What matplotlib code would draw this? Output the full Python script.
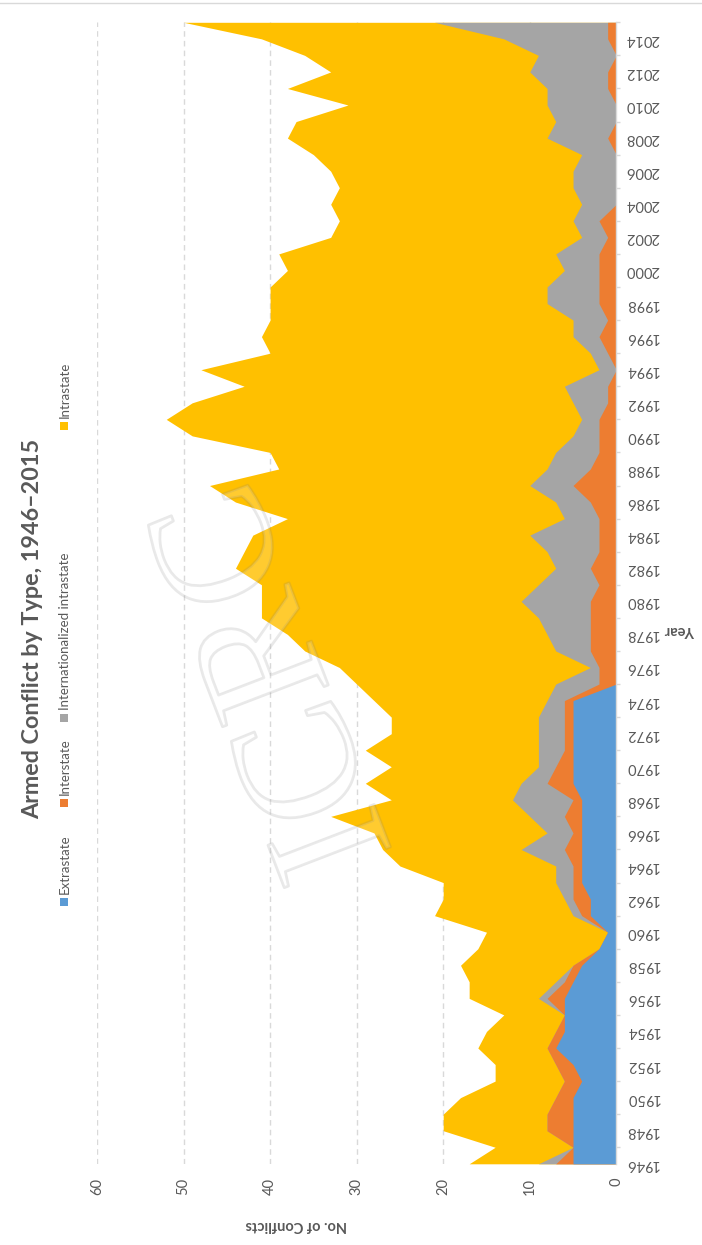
import numpy as np
import matplotlib.pyplot as plt
from matplotlib.patches import Rectangle
from matplotlib.lines import Line2D
import matplotlib.patheffects as pe

plt.rcParams['font.family'] = ['Lato', 'DejaVu Sans']

# data (counts per year)
years = np.arange(1946, 2016)
extrastate = [5, 5, 5, 5, 5, 4, 5, 7, 6, 6,
              6, 5, 4, 2, 1, 3, 3, 4, 4, 4,
              4, 4, 4, 5, 5, 5, 5, 5, 5, 0,
              0, 0, 0, 0, 0, 0, 0, 0, 0, 0,
              0, 0, 0, 0, 0, 0, 0, 0, 0, 0,
              0, 0, 0, 0, 0, 0, 0, 0, 0, 0,
              0, 0, 0, 0, 0, 0, 0, 0, 0, 0]
interstate = [2, 0, 3, 3, 2, 2, 2, 1, 1, 0,
              2, 1, 1, 0, 0, 1, 2, 1, 1, 2,
              1, 2, 1, 3, 2, 1, 1, 1, 1, 2,
              2, 3, 3, 3, 3, 2, 3, 2, 2, 2,
              3, 5, 3, 2, 2, 2, 1, 1, 0, 1,
              2, 1, 2, 2, 2, 2, 1, 2, 0, 0,
              0, 0, 1, 0, 0, 1, 1, 0, 1, 1]
internationalized = [2, 0, 0, 0, 0, 0, 0, 0, 0, 0,
                     1, 1, 0, 0, 0, 1, 1, 2, 2, 5,
                     3, 4, 7, 3, 2, 3, 3, 3, 2, 5,
                     1, 4, 5, 6, 8, 7, 4, 6, 8, 4,
                     4, 5, 5, 5, 3, 2, 4, 5, 2, 2,
                     3, 4, 6, 6, 4, 5, 3, 3, 4, 5,
                     5, 4, 7, 7, 8, 7, 9, 9, 12, 20]
intrastate = [8, 9, 12, 12, 11, 8, 7, 8, 8, 7,
              8, 10, 13, 14, 14, 16, 14, 13, 18, 16,
              20, 23, 14, 18, 17, 20, 17, 17, 20, 23,
              29, 29, 30, 32, 30, 32, 37, 35, 32, 32,
              37, 37, 31, 33, 44, 48, 44, 37, 46, 37,
              36, 35, 32, 32, 32, 32, 29, 27, 29, 27,
              28, 31, 30, 30, 23, 30, 23, 27, 28, 29]

labels = ['Extrastate', 'Interstate', 'Internationalized intrastate', 'Intrastate']
colors = ['#5B9BD5', '#ED7D31', '#A5A5A5', '#FFC000']
txt = '#595959'

W, H = 702, 1245
fig = plt.figure(figsize=(W / 100, H / 100), dpi=100)
ax = fig.add_axes([97 / W, 81.2 / H, (616.3 - 97) / W, (1222.7 - 81.2) / H])

# chart is drawn turned on its side: years run up, counts run right-to-left
layers = [extrastate, interstate, internationalized, intrastate]
cum = np.cumsum(np.array(layers), axis=0)
for i in range(3, -1, -1):
    ax.fill_betweenx(years, 0, cum[i], color=colors[i], lw=0, zorder=2)

ax.set_xlim(60, 0)
ax.set_ylim(1946, 2015)

ax.set_xticks(range(0, 61, 10))
ax.xaxis.grid(True, color='#d9d9d9', lw=1, ls=(0, (4, 3)))
ax.set_axisbelow(True)
ax.tick_params(axis='x', length=0, pad=10, labelsize=10.5, labelcolor=txt, labelrotation=90)

ax.yaxis.tick_right()
ax.set_yticks(range(1946, 2015, 2))
ax.set_yticks([1946] + list(range(1947, 2016, 2)), minor=True)
ax.tick_params(axis='y', which='major', length=0, pad=6.5, labelsize=10.5,
               labelcolor=txt, labelrotation=180)
ax.tick_params(axis='y', which='minor', length=3, width=1, color='#d9d9d9')
for lab in ax.get_yticklabels():
    lab.set_va('center')

for s in ['top', 'bottom', 'left']:
    ax.spines[s].set_visible(False)
ax.spines['right'].set_color('#d9d9d9')
ax.spines['right'].set_linewidth(1)

# titles
fig.text(33 / W, 1 - 629 / H, 'Armed Conflict by Type, 1946\u20132015', rotation=90,
         ha='center', va='center', fontsize=16.8, fontweight='bold', color=txt)
fig.text(296 / W, 1 - 1225 / H, 'No. of Conflicts', rotation=180,
         ha='center', va='center', fontsize=10.5, fontweight='bold', color=txt)
fig.text(680 / W, 1 - 630 / H, 'Year', rotation=180,
         ha='center', va='center', fontsize=10.5, fontweight='bold', color=txt)

# legend, reading bottom to top
sq_y = [902, 803, 718, 426]
for lab, c, y in zip(labels, colors, sq_y):
    fig.patches.append(Rectangle(((64 - 4) / W, 1 - (y + 4) / H), 8 / W, 8 / H,
                                 transform=fig.transFigure, color=c, lw=0))
    fig.text(65 / W, 1 - (y - 8) / H, lab, rotation=90, ha='center', va='bottom',
             fontsize=9.5, color=txt)

# faint watermark
fig.text(0.40, 0.455, 'ICRC', rotation=111, ha='center', va='center', fontsize=125,
         family='Liberation Serif', color=(1, 1, 1, 0.1), zorder=5,
         path_effects=[pe.withStroke(linewidth=2, foreground=(0.5, 0.5, 0.5, 0.18))])

fig.add_artist(Line2D([0, 1], [1 - 3 / H, 1 - 3 / H], color='#d9d9d9', lw=1))

fig.savefig('out.png', dpi=100)
